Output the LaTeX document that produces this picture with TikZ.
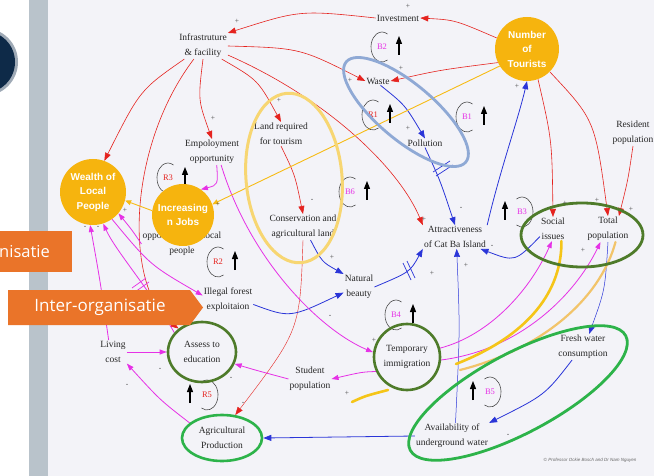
\documentclass[tikz,border=0pt]{standalone}
\usepackage{fontspec}
\setmainfont{Liberation Serif}
\setsansfont{Liberation Sans}
\newfontfamily\slidefont{Open Sans}
\usetikzlibrary{arrows.meta,shapes.geometric}

\definecolor{cldred}{HTML}{E5231F}
\definecolor{cldblue}{HTML}{2A35D8}
\definecolor{cldpink}{HTML}{E631E6}
\definecolor{tourgold}{HTML}{F6B40E}
\definecolor{hlyellow}{HTML}{F7D672}
\definecolor{hlolive}{HTML}{4E7B2A}
\definecolor{hlgreen}{HTML}{2DB34A}
\definecolor{hlblue}{HTML}{8FA9D5}
\definecolor{slideorange}{HTML}{EA7429}
\definecolor{slidenavy}{HTML}{0E2A48}
\definecolor{slidebar}{HTML}{B9C3CB}
\definecolor{paper}{HTML}{F3F3F8}
\definecolor{strokegold}{HTML}{F5C518}
\definecolor{strokepale}{HTML}{F2C46A}

\pgfdeclarelayer{paperlayer}
\pgfdeclarelayer{linklayer}
\pgfsetlayers{paperlayer,linklayer,main}

\tikzset{
  var/.style={align=center, inner sep=1pt, text=black!85, font=\fontsize{9.5}{15}\selectfont},
  bubble/.style={circle, fill=tourgold, minimum size=64pt, inner sep=0pt, align=center, text=white, font=\sffamily\bfseries\fontsize{10}{14.5}\selectfont},
  ring/.style={draw=hlolive, line width=2.6pt},
  sign/.style={inner sep=0pt, text=black!70, font=\fontsize{7.5}{7.5}\selectfont},
  redlink/.style={cldred, line width=0.6pt, -{Triangle[length=8pt,width=6pt]}},
  bluelink/.style={cldblue, line width=0.8pt, -{Triangle[length=8pt,width=6pt]}},
  pinklink/.style={cldpink, line width=0.8pt, -{Triangle[length=7pt,width=5pt]}},
  goldlink/.style={strokegold!85!orange, line width=0.9pt, -{Triangle[length=6pt,width=5pt]}},
}

% loop symbol: position, label, colour, side (1 = arrow right, -1 = arrow left)
\newcommand{\loopsym}[4]{%
  \begin{scope}[shift={(#1)}, xscale=#4]
    \draw[black!70, line width=0.6pt] (60:11 and 15) arc[start angle=60, end angle=300, x radius=11, y radius=15];
    \draw[black, line width=1.1pt, -{Triangle[length=8pt,width=6pt]}] (17,8) -- (17,-11);
  \end{scope}
  \node[text=#3, font=\fontsize{8.5}{8.5}\selectfont] at (#1) {#2};}

\begin{document}
\begin{tikzpicture}[x=1pt,y=-1pt]
  \useasboundingbox (0,0) rectangle (654,476);

  % Slide background
  \begin{pgfonlayer}{paperlayer}
    \fill[white] (0,0) rectangle (654,476);
    \fill[slidebar] (29,0) rectangle (48,476);
    \fill[paper] (48,0) rectangle (654,476);
    \fill[slidenavy!40] (-16,62) circle (34);
    \fill[slidenavy] (-16,62) circle (31);
  \end{pgfonlayer}

  % Variables
  \node[var] (inv)     at (398,18)  {Investment};
  \node[var] (infra)   at (203,46)  {Infrastruture\\\& facility};
  \node[var] (waste)   at (378,81)  {Waste};
  \node[var] (poll)    at (425,143) {Pollution};
  \node[var] (land)    at (281,134) {Land required\\for tourism};
  \node[var] (emp)     at (212,152) {Empoloyment\\opportunity};
  \node[var] (res)     at (633,133) {Resident\\population};
  \node[var] (locopp)  at (182,244) {opportunity for local\\people};
  \node[var] (cons)    at (303,227) {Conservation and\\agricultural land};
  \node[var] (attr)    at (455,237) {Attractiveness\\of Cat Ba Island};
  \node[var] (soc)     at (553,229) {Social\\issues};
  \node[var] (totpop)  at (608,229) {Total\\population};
  \node[var] (nat)     at (359,287) {Natural\\beauty};
  \node[var] (illegal) at (228,300) {Illegal forest\\exploitaion};
  \node[var] (living)  at (113,352) {Living\\cost};
  \node[var, ellipse, ring, minimum width=68pt, minimum height=60pt, inner sep=0pt] (assess) at (202,352) {Assess to\\education};
  \node[var, circle, ring, minimum size=66pt, inner sep=0pt] (temp) at (407,357) {Temporary\\immigration};
  \node[var] (student) at (310,379) {Student\\population};
  \node[var] (fresh)   at (583,347) {Fresh water\\consumption};
  \node[var, ellipse, draw=hlgreen, line width=2.6pt, minimum width=80pt, minimum height=46pt, inner sep=0pt] (agri) at (222,438) {Agricultural\\Production};
  \node[var] (avail)   at (452,436) {Availability of\\underground water};
  \node[text=black!60, font=\sffamily\itshape\fontsize{4.5}{5}\selectfont] (credit) at (590,460) {\textcopyright{} Professor Ockie Bosch and Dr Nam Nguyen};

  % Highlighted key factors
  \node[bubble] (tour) at (527,49) {Number\\of\\Tourists};
  \node[bubble, minimum size=66pt] (wealth) at (93,192) {Wealth of\\Local\\People};
  \node[bubble, minimum size=62pt] (jobs) at (183,215) {Increasing\\n Jobs};

  \draw[hlblue, line width=2.8pt, rotate around={-40:(406,112)}] (406,112) ellipse [x radius=78, y radius=28];
  \draw[hlyellow, line width=3pt, rotate around={5:(294,178)}] (294,178) ellipse [x radius=48, y radius=85];
  \draw[hlolive, line width=2.8pt] (582,235) ellipse [x radius=61, y radius=32];
  \draw[hlgreen, line width=2.8pt, rotate around={28:(518,393)}] (518,393) ellipse [x radius=122, y radius=40];

  \begin{pgfonlayer}{linklayer}
    % red links
    \draw[redlink] (tour.160) .. controls (455,20) .. (inv.east);
    \draw[redlink] (inv.west) .. controls (300,10) .. (infra.north east);
    \draw[redlink] (tour.205) .. controls (440,70) .. (waste.east);
    \draw[redlink] (infra.east) .. controls (300,48) .. (waste.west);
    \draw[redlink] (infra.south) .. controls (198,100) .. (emp.north);
    \draw[redlink] (infra.-35) .. controls (258,80) .. (land.north);
    \draw[redlink] (infra.-20) .. controls (330,100) and (400,170) .. (attr.north west);
    \draw[redlink] (infra.215) .. controls (140,90) .. (wealth.70);
    \draw[redlink] (infra.235) .. controls (125,150) and (125,290) .. (assess.135);
    \draw[redlink] (land.south) .. controls (295,175) .. (cons.north);
    \draw[redlink] (tour.-70) .. controls (552,140) .. (soc.north);
    \draw[redlink] (tour.-45) .. controls (595,120) .. (totpop.north);
    \draw[redlink] (res.south) .. controls (628,180) .. (totpop.50);
    \draw[redlink, line width=0.4pt] (cons.south) .. controls (300,330) .. (agri.60);

    % blue links
    \draw[bluelink] (waste.-60) .. controls (405,105) .. (poll.north);
    \draw[bluelink] (poll.south) .. controls (440,180) .. (attr.north);
    \draw[bluelink] (attr.north east) .. controls (500,170) and (518,120) .. (tour.-90);
    \draw[bluelink] (cons.-60) .. controls (322,262) .. (nat.north west);
    \draw[bluelink] (illegal.-10) .. controls (290,318) .. (nat.200);
    \draw[bluelink] (nat.east) .. controls (410,272) .. (attr.south west);
    \draw[bluelink] (soc.-150) .. controls (515,262) .. (attr.-25);
    \draw[bluelink, line width=0.5pt] (avail.75) .. controls (460,330) .. (attr.-82);
    \draw[bluelink, line width=0.5pt] (totpop.south) .. controls (605,290) .. (fresh.65);
    \draw[bluelink] (fresh.-130) .. controls (545,395) .. (avail.north east);
    \draw[bluelink] (avail.west) -- (agri.east);

    % magenta links
    \draw[pinklink] (emp.-70) .. controls (218,185) .. (jobs.55);
    \draw[pinklink] (emp.-55) .. controls (250,260) and (320,330) .. (temp.172);
    \draw[pinklink] (locopp.west) .. controls (132,230) .. (wealth.-40);
    \draw[pinklink] (wealth.-55) .. controls (150,265) .. (illegal.170);
    \draw[pinklink] (living.110) .. controls (100,280) .. (wealth.-95);
    \draw[pinklink] (assess.145) .. controls (150,290) and (115,250) .. (wealth.-72);
    \draw[pinklink] (living.east) -- (assess.west);
    \draw[pinklink] (agri.155) .. controls (160,400) .. (living.-40);
    \draw[pinklink] (student.west) .. controls (255,370) .. (assess.-20);
    \draw[pinklink] (temp.-155) .. controls (362,372) .. (student.east);
    \draw[pinklink] (temp.15) .. controls (490,335) and (530,290) .. (soc.-95);
    \draw[pinklink] (temp.-5) .. controls (520,350) and (575,295) .. (totpop.-120);

    % gold links
    \draw[goldlink] (tour.212) -- (jobs.20);
    \draw[goldlink] (jobs.172) -- (wealth.-15);
    \draw[strokegold, line width=2.6pt, line cap=round] (soc.-55) .. controls (562,290) and (530,335) .. (456,364);
    \draw[strokegold, line width=2.6pt, line cap=round] (352,402) .. controls (365,396) .. (388,390);
    \draw[strokepale, line width=2.2pt, line cap=round] (totpop.-60) .. controls (600,300) and (540,350) .. (460,370);

    % delays
    \draw[cldblue, line width=0.7pt] (433,172) -- (450,161) (436,176) -- (453,165);
    \draw[cldblue, line width=0.7pt] (403,263) -- (411,280) (407,261) -- (415,278);
    \draw[cldpink, line width=0.7pt] (132,288) -- (146,278) (135,292) -- (149,282);

    % loops
    \loopsym{382,47}{B2}{cldpink}{1}
    \loopsym{373,115}{R1}{cldred}{1}
    \loopsym{467,117}{B1}{cldpink}{1}
    \loopsym{168,178}{R3}{cldred}{1}
    \loopsym{350,192}{B6}{cldpink}{1}
    \loopsym{218,262}{R2}{cldred}{1}
    \loopsym{522,212}{B3}{cldpink}{-1}
    \loopsym{396,315}{B4}{cldpink}{1}
    \loopsym{207,395}{R5}{cldred}{-1}
    \loopsym{490,392}{B5}{cldpink}{-1}
  \end{pgfonlayer}

  % polarities
  \foreach \x/\y/\s in {408/6/+, 237/21/+, 401/68/+, 350/80/+, 213/118/+, 279/100/+,
      408/128/+, 517/86/+, 461/208/-, 424/219/+, 432/273/+, 466/265/+, 492/246/-,
      565/203/+, 597/200/+, 631/209/+, 583/250/+, 312/200/-, 332/257/+, 330/316/-,
      218/204/+, 125/210/+, 85/227/-, 98/227/-, 374/340/+, 231/378/-, 347/393/+,
      243/403/-, 160/369/-, 127/385/-, 508/435/-}
    \node[sign] at (\x,\y) {\s};

  % Slide labels
  \fill[slideorange] (-2,231) rectangle (72,272);
  \node[anchor=west, text=white, inner sep=0pt, font=\slidefont\fontsize{16.5}{17}\selectfont] (orgtag) at (-1,252) {nisatie};
  \fill[slideorange] (8,290) -- (190,290) -- (203,307.5) -- (190,325) -- (8,325) -- cycle;
  \node[text=white, inner sep=0pt, font=\slidefont\fontsize{17}{18}\selectfont] (intertag) at (100,307) {Inter-organisatie};
\end{tikzpicture}
\end{document}
